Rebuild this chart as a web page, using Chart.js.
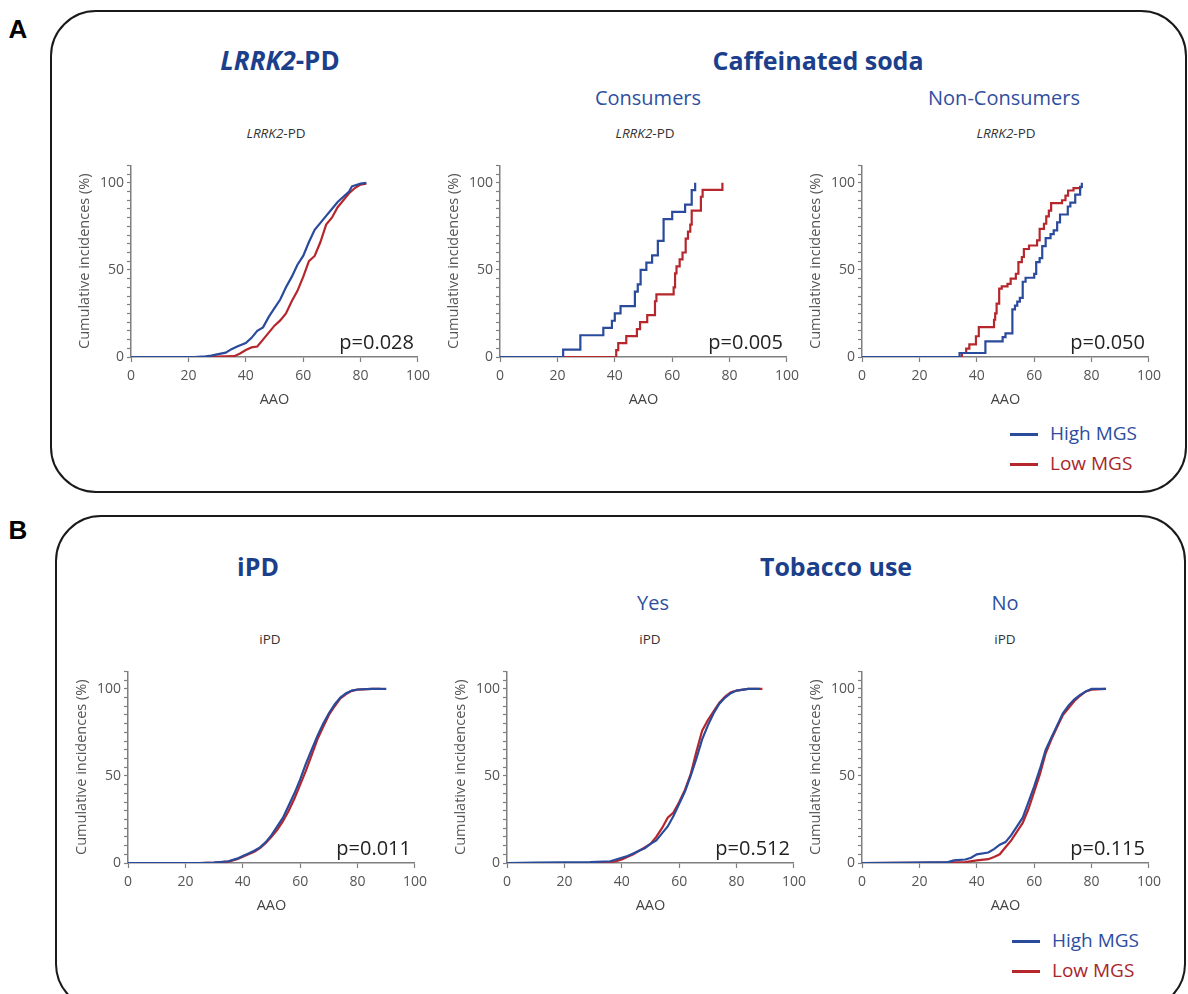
<!DOCTYPE html>
<html>
<head>
<meta charset="utf-8">
<script src="https://cdn.jsdelivr.net/npm/chart.js@4.4.1/dist/chart.umd.min.js"></script>
<style>
  body { margin: 0; background: #fff; font-family: "Open Sans", sans-serif; }
  #page { position: relative; width: 1188px; height: 994px; overflow: hidden; }
  .box { position: absolute; box-sizing: border-box; border: 2px solid #1a1a1a; border-radius: 46px; }
  .lab { position: absolute; transform: translate(-50%, -50%); font: bold 26px "Liberation Sans", Arial, sans-serif; color: #000; }
  .t { position: absolute; transform: translate(-50%, -50%); white-space: nowrap; }
  .big { font-weight: 700; font-size: 25px; color: #1b3f8b; }
  .sub { font-size: 20px; color: #2f4f9f; }
  .small { font-size: 13.5px; color: #333; }
  canvas { position: absolute; }
  .leg { position: absolute; font-size: 19px; height: 26px; line-height: 26px; white-space: nowrap; }
  .leg span { display: inline-block; width: 28px; height: 3px; vertical-align: middle; margin-right: 12px; }
</style>
</head>
<body>
<div id="page">
  <div class="box" style="left:50px;top:10px;width:1137px;height:483px;"></div>
  <div class="box" style="left:55px;top:515px;width:1131px;height:495px;"></div>

  <div class="lab" style="left:18px;top:29px;">A</div>
  <div class="lab" style="left:18px;top:530px;">B</div>

  <div class="t big" style="left:280px;top:60px;font-size:26px;"><i>LRRK2</i>-PD</div>
  <div class="t big" style="left:818px;top:60px;">Caffeinated soda</div>
  <div class="t sub" style="left:648px;top:97px;">Consumers</div>
  <div class="t sub" style="left:1004px;top:97px;">Non-Consumers</div>
  <div class="t small" style="left:276px;top:133px;"><i>LRRK2</i>-PD</div>
  <div class="t small" style="left:645px;top:133px;"><i>LRRK2</i>-PD</div>
  <div class="t small" style="left:1006px;top:133px;"><i>LRRK2</i>-PD</div>

  <div class="t big" style="left:258px;top:566px;">iPD</div>
  <div class="t big" style="left:836px;top:566px;">Tobacco use</div>
  <div class="t sub" style="left:653px;top:602px;">Yes</div>
  <div class="t sub" style="left:1005px;top:602px;">No</div>
  <div class="t small" style="left:270px;top:639px;">iPD</div>
  <div class="t small" style="left:650px;top:639px;">iPD</div>
  <div class="t small" style="left:1005px;top:639px;">iPD</div>

  <div class="leg" style="left:1010px;top:420px;color:#2d4d9e;"><span style="background:#2a4a9c"></span>High MGS</div>
  <div class="leg" style="left:1010px;top:450px;color:#a8262b;"><span style="background:#b5272d"></span>Low MGS</div>
  <div class="leg" style="left:1012px;top:927px;color:#2d4d9e;"><span style="background:#2a4a9c"></span>High MGS</div>
  <div class="leg" style="left:1012px;top:957px;color:#a8262b;"><span style="background:#b5272d"></span>Low MGS</div>

  <canvas id="a1" width="375" height="258" style="left:61px;top:154px;"></canvas>
  <canvas id="a2" width="375" height="258" style="left:430px;top:154px;"></canvas>
  <canvas id="a3" width="375" height="258" style="left:792px;top:154px;"></canvas>
  <canvas id="b1" width="375" height="258" style="left:58px;top:660px;"></canvas>
  <canvas id="b2" width="375" height="258" style="left:437px;top:660px;"></canvas>
  <canvas id="b3" width="375" height="258" style="left:792px;top:660px;"></canvas>
</div>

<script>
// TICKS AND LABELS
const xTicks = [0, 20, 40, 60, 80, 100];
const yLabels = [0, 50, 100];
const pValues = ["p=0.028", "p=0.005", "p=0.050", "p=0.011", "p=0.512", "p=0.115"];

// CUMULATIVE INCIDENCE CURVES, [AAO, %]
const lrrkHigh = [[0,0],[22,0],[26,0.4],[28,0.8],[30,1.5],[33,2.5],[35,4.5],[37,6],[40,8],[42,11],[44,15],[46,17],[48,23],[50,28],[52,33],[54,40],[56,46],[58,53],[60,58],[62,66],[64,73],[66,77],[68,81],[70,85],[72,89],[74,92],[76,95],[77,98],[80,99.5],[82,100]];
const lrrkLow = [[0,0],[25,0],[30,0.3],[36,0.5],[38,2],[40,4],[42,5.5],[44,6],[46,10],[48,14],[50,18],[52,21],[54,25],[56,32],[58,38],[60,46],[62,55],[64,58],[66,66],[68,76],[70,80],[72,86],[74,90],[76,94],[78,97],[80,99],[82,99.5]];

const sodaHigh = [[0,0],[22,4.2],[28,12.5],[36,16.7],[39,20.8],[40,25],[42,29.2],[47,37.5],[48,41.7],[49,50],[51,54.2],[53,58.3],[55,66.7],[57,79.2],[60,83.3],[64.5,87.5],[66.8,95.8],[68,100]];
const sodaLow = [[0,0],[40.5,4],[41.2,8],[44,12],[47.7,16],[48.8,20],[51.3,24],[54,32],[54.5,36],[60.5,40],[61,48],[61.5,52],[62.6,56],[63.6,60],[64.7,68],[65.5,72],[66.3,76],[66.8,84],[70,92],[70.6,96],[77.5,100]];

const nonHigh = [[0,0],[34,2.3],[43,9],[49,11.4],[50,13.6],[52.4,27.3],[53.3,29.5],[54.1,31.8],[55,34],[56,43.2],[57,45.5],[60,47.7],[60.7,54.5],[61.9,56.8],[62.8,63.6],[64,68.2],[65.7,70.5],[66.8,72.7],[68,77.3],[69,81.8],[71.7,86.4],[72.6,88.6],[74.3,93.2],[76,97.7],[76.6,100]];
const nonLow = [[0,0],[34.8,2.3],[36.3,4.8],[37.4,7.3],[39.7,11.9],[40.7,17.2],[46,21.4],[46.4,25],[46.9,30.6],[47.8,39.2],[48.7,40.5],[50.7,42],[51.8,45],[53.6,47.8],[54.5,54.5],[55.7,57.4],[56.4,62],[58.2,64],[61,67],[61.9,73.6],[63.4,76.5],[64.2,80.7],[65.1,84],[65.9,88.3],[69.7,90],[70.9,92.7],[71.8,95.6],[73.7,97],[76.5,97]];

const ipdHigh = [[0,0],[25,0],[30,0.3],[35,1],[38,2.5],[40,4],[42,5.5],[44,7],[46,9],[48,12],[50,16],[52,21],[54,26],[56,33],[58,40],[60,48],[62,57],[64,65],[66,73],[68,80],[70,86],[72,91],[74,95],[76,97.5],[78,99],[80,99.6],[85,100],[90,100]];
const ipdLow = [[0,0],[25,0],[30,0.3],[35,0.8],[38,2.2],[40,3.6],[42,5],[44,6.5],[46,8.5],[48,11.5],[50,15],[52,19],[54,24],[56,30],[58,37],[60,45],[62,53],[64,62],[66,71],[68,78],[70,85],[72,90],[74,94.5],[76,97],[78,98.8],[80,99.5],[85,100],[88,100]];

const yesHigh = [[0,0],[10,0.3],[29,0.5],[36,1],[38,2],[40,3],[42,4],[44,5.5],[46,7],[48,8.5],[50,11],[52,13],[54,17],[56,21],[58,27],[60,34],[62,41],[64,50],[66,60],[68,71],[70,79],[72,86],[74,91.5],[76,95],[78,97.5],[80,99],[84,100],[88,100]];
const yesLow = [[0,0],[28,0],[36,0.5],[38,1],[40,2],[44,5],[48,9],[50,11],[52,15],[54,20],[56,26],[58,29],[60,35],[62,42],[64,51],[66,64],[68,76],[70,82],[72,87],[74,92],[76,95.6],[78,98],[80,99],[84,100],[89,100]];

const noHigh = [[0,0],[18,0.3],[30,0.5],[32,1.5],[36,2],[38,3],[40,5],[44,6],[46,8],[48,10.5],[50,12],[52,16],[54,21],[56,26],[58,35],[60,44],[62,54],[64,65],[66,72],[68,79],[70,86],[72,90.5],[74,94],[76,96.5],[78,98.5],[80,100],[85,100]];
const noLow = [[0,0],[28,0.3],[36,0.5],[40,1.5],[44,2.2],[46,3.5],[48,5],[50,9],[52,13],[54,18],[56,23],[58,31],[60,41],[62,51],[64,63],[66,71],[68,78],[70,85],[72,89],[74,93],[76,96],[78,98.5],[80,99.5],[85,100]];

const BLUE = "#2a4a9c";
const RED = "#b5272d";
const AXIS = "#7f7f7f";

Chart.defaults.font.family = '"Open Sans", sans-serif';

const pLabel = {
  //DRAW THE P VALUE IN THE LOWER RIGHT OF THE PLOT AREA
  id: "pLabel",
  afterDraw(chart, args, opts) {
    const { ctx, chartArea } = chart;
    ctx.save();
    ctx.font = '20px "Open Sans", sans-serif';
    ctx.fillStyle = "#222";
    ctx.textAlign = "right";
    ctx.textBaseline = "middle";
    ctx.fillText(opts.text, chartArea.right - 4, chartArea.bottom - 14);
    ctx.restore();
  },
};

function toPoints(arr) {
  return arr.map((p) => ({ x: p[0], y: p[1] }));
}

function makeChart(id, high, low, p, stepped) {
  new Chart(document.getElementById(id), {
    type: "line",
    data: {
      datasets: [
        { label: "High MGS", data: toPoints(high), borderColor: BLUE, borderWidth: 2.2, pointRadius: 0, stepped: stepped, tension: 0 },
        { label: "Low MGS", data: toPoints(low), borderColor: RED, borderWidth: 2.2, pointRadius: 0, stepped: stepped, tension: 0 },
      ],
    },
    plugins: [pLabel],
    options: {
      responsive: false,
      animation: false,
      layout: { padding: { top: 10, right: 16, left: 0, bottom: 0 } },
      plugins: { legend: { display: false }, tooltip: { enabled: false }, pLabel: { text: p } },
      scales: {
        x: {
          type: "linear",
          min: 0,
          max: 100,
          afterFit: (s) => { s.height = 55; },
          afterBuildTicks: (s) => { s.ticks = xTicks.map((v) => ({ value: v })); },
          ticks: { color: "#555", font: { size: 14 }, padding: 6, maxRotation: 0 },
          grid: { drawOnChartArea: false, tickLength: 5, color: AXIS, tickWidth: 1.2 },
          border: { color: AXIS, width: 1.5 },
          title: { display: true, text: "AAO", color: "#444", font: { size: 14.5 }, padding: { top: 0, bottom: 3 } },
        },
        y: {
          min: 0,
          max: 110,
          afterFit: (s) => { s.width = 70; },
          ticks: {
            stepSize: 5,
            autoSkip: false,
            color: "#555",
            font: { size: 14 },
            padding: 3,
            callback: (v) => (yLabels.includes(v) ? v : ""),
          },
          grid: { drawOnChartArea: false, tickLength: 4, color: AXIS, tickWidth: 1.2 },
          border: { color: AXIS, width: 1.5 },
          title: { display: true, text: "Cumulative incidences (%)", color: "#555", font: { size: 14.5 }, padding: { top: 15, bottom: 0 } },
        },
      },
    },
  });
}

makeChart("a1", lrrkHigh, lrrkLow, pValues[0], false);
makeChart("a2", sodaHigh, sodaLow, pValues[1], true);
makeChart("a3", nonHigh, nonLow, pValues[2], true);
makeChart("b1", ipdHigh, ipdLow, pValues[3], false);
makeChart("b2", yesHigh, yesLow, pValues[4], false);
makeChart("b3", noHigh, noLow, pValues[5], false);
</script>
</body>
</html>
